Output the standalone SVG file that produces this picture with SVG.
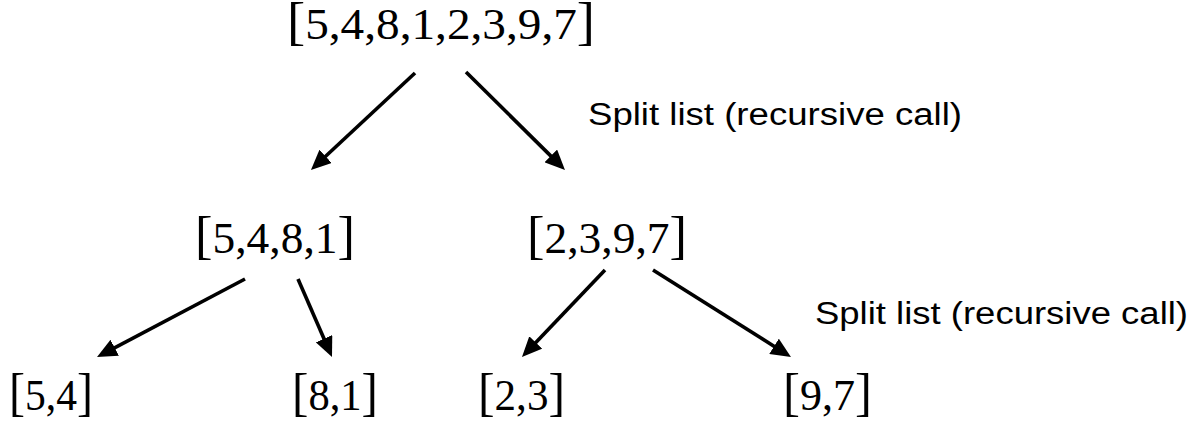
<svg xmlns="http://www.w3.org/2000/svg" width="1191" height="423" viewBox="0 0 1191 423">
  <style>
    .list { font-family: "Liberation Serif", "Times New Roman", serif; font-size: 45px; fill: #000; }
    .br { font-size: 52px; }
    .note { font-family: "Liberation Sans", Arial, sans-serif; font-size: 31px; fill: #000; }
    .edge { stroke: #000; stroke-width: 3.6; fill: none; marker-end: url(#head); }
  </style>
  <defs>
    <marker id="head" viewBox="0 0 20 18" markerWidth="20" markerHeight="18" refX="12" refY="9" orient="auto" markerUnits="userSpaceOnUse">
      <path d="M0,0 L20,9 L0,18 Z" fill="#000"/>
    </marker>
  </defs>
  <rect width="1191" height="423" fill="#fff"/>

  <!-- split arrows -->
  <g id="connectors">
    <line class="edge" x1="415" y1="73" x2="316.8" y2="164.5"/>
    <line class="edge" x1="466" y1="72" x2="559.3" y2="164.4"/>
    <line class="edge" x1="245" y1="279" x2="104.1" y2="353.3"/>
    <line class="edge" x1="298" y1="279" x2="328.8" y2="349.7"/>
    <line class="edge" x1="605" y1="270" x2="527.5" y2="351.2"/>
    <line class="edge" x1="653" y1="270" x2="784.2" y2="352.7"/>
  </g>

  <!-- list nodes -->
  <g id="root"><text class="list" x="287" y="39" textLength="308" lengthAdjust="spacingAndGlyphs"><tspan class="br">[</tspan>5,4,8,1,2,3,9,7<tspan class="br">]</tspan></text></g>
  <g id="left"><text class="list" x="195" y="253" textLength="160" lengthAdjust="spacingAndGlyphs"><tspan class="br">[</tspan>5,4,8,1<tspan class="br">]</tspan></text></g>
  <g id="right"><text class="list" x="527" y="253" textLength="160" lengthAdjust="spacingAndGlyphs"><tspan class="br">[</tspan>2,3,9,7<tspan class="br">]</tspan></text></g>
  <g id="leaf-54"><text class="list" x="9" y="410" textLength="84" lengthAdjust="spacingAndGlyphs"><tspan class="br">[</tspan>5,4<tspan class="br">]</tspan></text></g>
  <g id="leaf-81"><text class="list" x="292" y="410" textLength="86" lengthAdjust="spacingAndGlyphs"><tspan class="br">[</tspan>8,1<tspan class="br">]</tspan></text></g>
  <g id="leaf-23"><text class="list" x="478" y="410" textLength="87" lengthAdjust="spacingAndGlyphs"><tspan class="br">[</tspan>2,3<tspan class="br">]</tspan></text></g>
  <g id="leaf-97"><text class="list" x="783" y="410" textLength="89" lengthAdjust="spacingAndGlyphs"><tspan class="br">[</tspan>9,7<tspan class="br">]</tspan></text></g>

  <!-- annotations -->
  <g id="note-1"><text class="note" x="588" y="125" textLength="374" lengthAdjust="spacingAndGlyphs">Split list (recursive call)</text></g>
  <g id="note-2"><text class="note" x="815" y="324" textLength="373" lengthAdjust="spacingAndGlyphs">Split list (recursive call)</text></g>
</svg>
